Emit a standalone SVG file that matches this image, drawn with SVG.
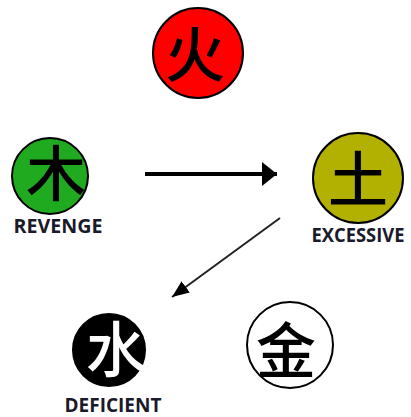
<svg xmlns="http://www.w3.org/2000/svg" width="411" height="417" viewBox="0 0 411 417">
<style>
.c{stroke:#000;stroke-width:2}
.g{font-family:"Noto Sans CJK SC","Noto Sans CJK JP",sans-serif;font-size:60px;font-weight:500;text-anchor:middle;dominant-baseline:central}
.l{font-family:"Open Sans","Liberation Sans",sans-serif;font-weight:bold;font-size:19px;text-anchor:middle;fill:#1a1a2a}
</style>
<defs>
<marker id="a1" markerUnits="userSpaceOnUse" markerWidth="16" markerHeight="24" refX="15" refY="12" orient="auto"><path d="M0,0 L15,12 L0,24 Z" fill="#000"/></marker>
<marker id="a2" markerUnits="userSpaceOnUse" markerWidth="18" markerHeight="14" refX="17" refY="7" orient="auto"><path d="M0,0 L17,7 L0,14 Z" fill="#000"/></marker>
</defs>
<rect width="411" height="417" fill="#fff"/>
<g id="connectors">
<line x1="145" y1="174" x2="277" y2="174" stroke="#000" stroke-width="4" marker-end="url(#a1)"/>
<line x1="280" y1="218" x2="172" y2="297" stroke="#222" stroke-width="2" marker-end="url(#a2)"/>
</g>
<g id="fire">
<circle class="c" cx="198" cy="53" r="45" fill="#ff0000"/>
<text class="g" x="195" y="50">火</text>
</g>
<g id="wood">
<circle class="c" cx="50" cy="176" r="38" fill="#1faa1f"/>
<text class="g" x="56" y="169">木</text>
<text class="l" x="58" y="233" textLength="89" lengthAdjust="spacingAndGlyphs">REVENGE</text>
</g>
<g id="earth">
<circle class="c" cx="358" cy="178" r="45" fill="#b2b000"/>
<text class="g" x="358" y="175">土</text>
<text class="l" x="358" y="242" textLength="93" lengthAdjust="spacingAndGlyphs">EXCESSIVE</text>
</g>
<g id="water">
<circle class="c" cx="109" cy="350" r="36" fill="#000"/>
<text class="g" x="116" y="345" fill="#fff">水</text>
<text class="l" x="113" y="412" textLength="97" lengthAdjust="spacingAndGlyphs">DEFICIENT</text>
</g>
<g id="metal">
<circle class="c" cx="290" cy="345" r="43" fill="#fff"/>
<text class="g" x="286" y="346">金</text>
</g>
</svg>
